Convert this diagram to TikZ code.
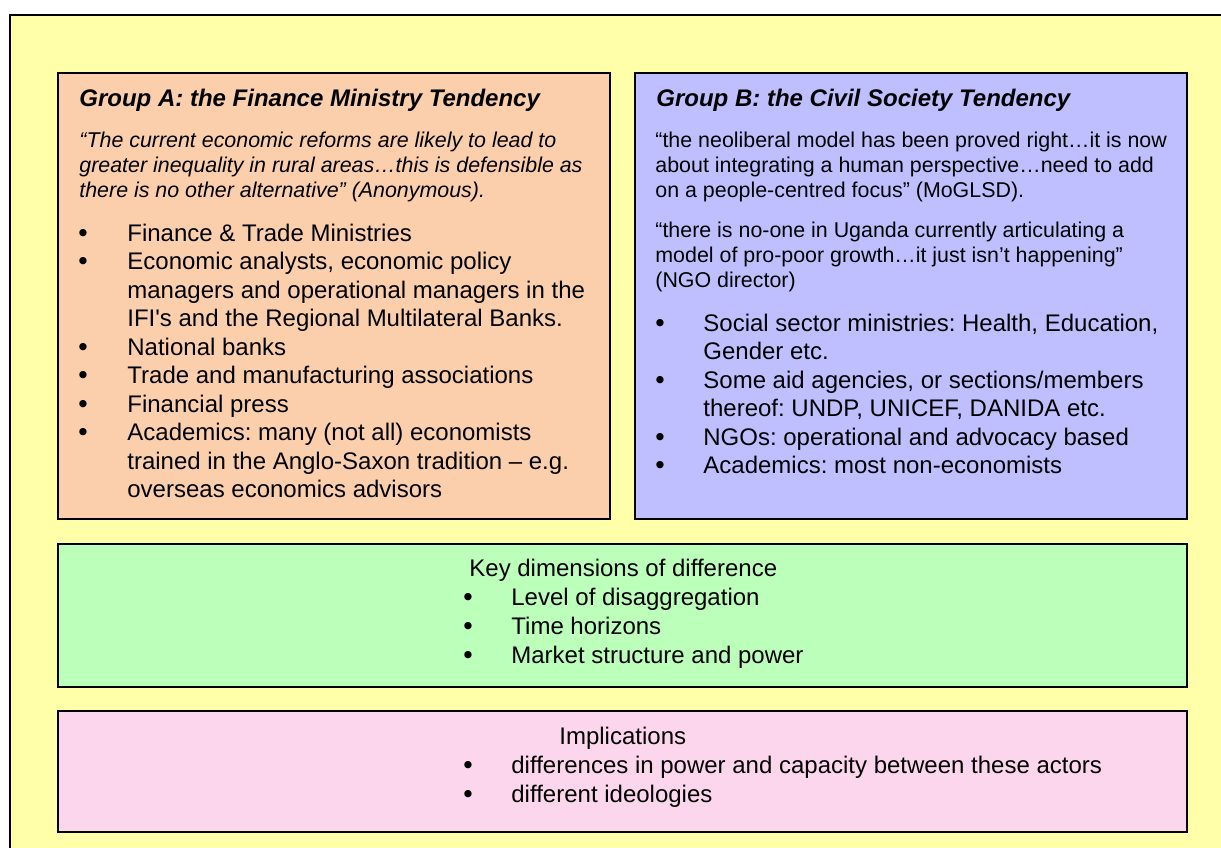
\documentclass[tikz,border=0pt]{standalone}
\usepackage{fontspec}
\setmainfont{Liberation Sans}
\frenchspacing
\definecolor{bgyellow}{RGB}{255,255,170}
\definecolor{peach}{RGB}{251,207,172}
\definecolor{lavender}{RGB}{191,191,255}
\definecolor{mint}{RGB}{187,255,187}
\definecolor{pinkish}{RGB}{252,214,236}
\tikzset{
  outerbox/.style={fill=bgyellow, draw=black, line width=1pt},
  panel/.style={draw=black, line width=1pt},
  ttl/.style={anchor=base west, inner sep=0pt, font=\fontsize{12}{14}\selectfont\bfseries\itshape},
  qti/.style={anchor=base west, inner sep=0pt, font=\fontsize{10.7}{13}\selectfont\itshape},
  qt/.style={anchor=base west, inner sep=0pt, font=\fontsize{10.7}{13}\selectfont},
  itm/.style={anchor=base west, inner sep=0pt, font=\fontsize{12}{14}\selectfont},
  bul/.style={anchor=base, inner sep=0pt, font=\fontsize{12.7}{14}\selectfont\bfseries}
}
\begin{document}
\begin{tikzpicture}[x=0.5pt,y=-0.5pt]
\useasboundingbox (0,0) rectangle (1221,847);
% outer frame
\path[outerbox] (9.5,15) rectangle (1240,870);
% panels
\path[panel, fill=peach] (57.5,72.5) rectangle (610,519);
\path[panel, fill=lavender] (634.5,72.5) rectangle (1187,519);
\path[panel, fill=mint] (57.5,544) rectangle (1187,687);
\path[panel, fill=pinkish] (57.5,711) rectangle (1187,832);

% Group A
\node[ttl] (aT) at (79,106) {Group A: the Finance Ministry Tendency};
\node[qti] (aq1) at (79,147) {“The current economic reforms are likely to lead to};
\node[qti] (aq2) at (79,172) {greater inequality in rural areas…this is defensible as};
\node[qti] (aq3) at (79,197) {there is no other alternative” (Anonymous).};
\node[bul] (ab1) at (83,241) {•};
\node[itm] (a1) at (127,241) {Finance \& Trade Ministries};
\node[bul] (ab2) at (83,269.5) {•};
\node[itm] (a2) at (127,269.5) {Economic analysts, economic policy};
\node[itm] (a3) at (127,298) {managers and operational managers in the};
\node[itm] (a4) at (127,326.5) {IFI\textquotesingle s and the Regional Multilateral Banks.};
\node[bul] (ab3) at (83,355) {•};
\node[itm] (a5) at (127,355) {National banks};
\node[bul] (ab4) at (83,383.5) {•};
\node[itm] (a6) at (127,383.5) {Trade and manufacturing associations};
\node[bul] (ab5) at (83,412) {•};
\node[itm] (a7) at (127,412) {Financial press};
\node[bul] (ab6) at (83,440.5) {•};
\node[itm] (a8) at (127,440.5) {Academics: many (not all) economists};
\node[itm] (a9) at (127,469) {trained in the Anglo-Saxon tradition – e.g.};
\node[itm] (a10) at (127,497.5) {overseas economics advisors};

% Group B
\node[ttl] (bT) at (656,106) {Group B: the Civil Society Tendency};
\node[qt] (bq1) at (655,147) {“the neoliberal model has been proved right…it is now};
\node[qt] (bq2) at (655,172) {about integrating a human perspective…need to add};
\node[qt] (bq3) at (655,197) {on a people-centred focus” (MoGLSD).};
\node[qt] (bq4) at (655,237) {“there is no-one in Uganda currently articulating a};
\node[qt] (bq5) at (655,262) {model of pro-poor growth…it just isn’t happening”};
\node[qt] (bq6) at (655,287) {(NGO director)};
\node[bul] (bb1) at (660,331) {•};
\node[itm] (b1) at (703,331) {Social sector ministries: Health, Education,};
\node[itm] (b2) at (703,359.5) {Gender etc.};
\node[bul] (bb2) at (660,388) {•};
\node[itm] (b3) at (703,388) {Some aid agencies, or sections/members};
\node[itm] (b4) at (703,416.5) {thereof: UNDP, UNICEF, DANIDA etc.};
\node[bul] (bb3) at (660,445) {•};
\node[itm] (b5) at (703,445) {NGOs: operational and advocacy based};
\node[bul] (bb4) at (660,473.5) {•};
\node[itm] (b6) at (703,473.5) {Academics: most non-economists};

% Key dimensions
\node[itm] (kT) at (469,576) {Key dimensions of difference};
\node[bul] (kb1) at (468,605) {•};
\node[itm] (k1) at (511,605) {Level of disaggregation};
\node[bul] (kb2) at (468,634) {•};
\node[itm] (k2) at (511,634) {Time horizons};
\node[bul] (kb3) at (468,663) {•};
\node[itm] (k3) at (511,663) {Market structure and power};

% Implications
\node[itm] (iT) at (559,744) {Implications};
\node[bul] (ib1) at (468,773) {•};
\node[itm] (i1) at (511,773) {differences in power and capacity between these actors};
\node[bul] (ib2) at (468,802) {•};
\node[itm] (i2) at (511,802) {different ideologies};
\end{tikzpicture}
\end{document}
